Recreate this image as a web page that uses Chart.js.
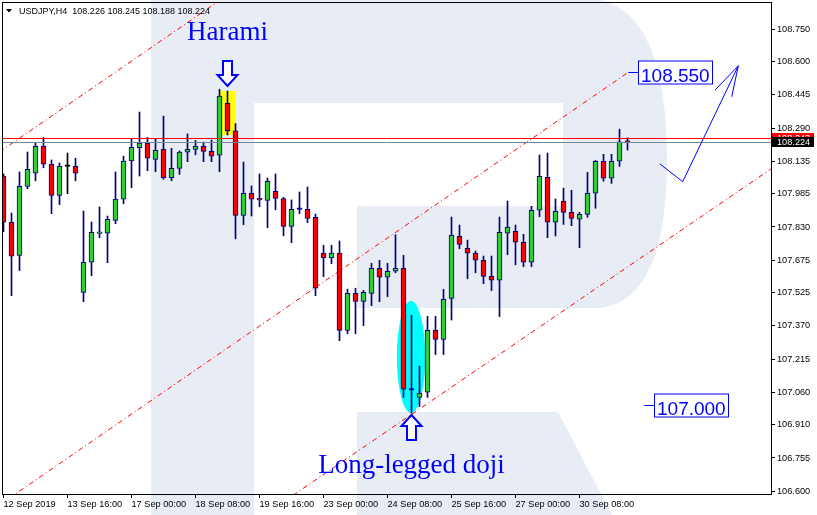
<!DOCTYPE html>
<html>
<head>
<meta charset="utf-8">
<script src="https://cdn.jsdelivr.net/npm/chart.js@4/dist/chart.umd.min.js"></script>
<style>
  html, body { margin: 0; padding: 0; background: #fff; overflow: hidden; }
  #wrap { width: 817px; height: 515px; position: relative; }
  canvas { display: block; }
</style>
</head>
<body>
<div id="wrap"><canvas id="chart" width="817" height="515"></canvas></div>
<script>
// ---- USDJPY H4 candles (index 0 = 12 Sep 2019) ----
const symbol = 'USDJPY,H4';
const opens  = [108.067,107.852,107.698,108.019,108.080,108.205,108.122,107.977,108.112,108.112,
                107.526,107.666,107.800,107.801,107.861,107.960,108.137,108.199,108.221,108.145,
                108.191,108.059,108.103,108.178,108.191,108.205,108.182,108.164,108.406,108.278,
                107.884,107.987,107.958,107.954,107.996,107.962,107.833,107.912,107.912,107.875,
                107.708,107.686,107.708,107.349,107.521,107.484,107.521,107.638,107.596,107.624,
                107.638,107.071,107.037,107.061,107.349,107.307,107.497,107.787,107.731,107.708,
                107.675,107.600,107.582,107.801,107.810,107.759,107.666,107.908,108.061,107.852,
                107.950,107.898,107.866,107.889,107.987,108.136,108.057,108.136,108.226];
const highs  = [108.077,107.895,108.086,108.179,108.224,108.247,108.142,108.128,108.174,108.150,
                107.904,107.853,107.923,107.881,108.086,108.160,108.241,108.365,108.247,108.239,
                108.346,108.196,108.184,108.263,108.233,108.225,108.235,108.471,108.463,108.311,
                108.132,108.021,108.077,108.058,108.077,107.968,107.956,107.993,108.016,107.890,
                107.745,107.745,107.765,107.541,107.545,107.535,107.661,107.675,107.661,107.794,
                107.698,107.419,107.183,107.414,107.414,107.540,107.876,107.839,107.769,107.718,
                107.695,107.695,107.876,107.951,107.839,107.796,107.926,108.165,108.174,107.960,
                108.011,108.001,107.898,108.084,108.140,108.168,108.168,108.285,108.245];
const lows   = [107.808,107.510,107.627,108.008,108.045,108.106,107.892,107.934,107.985,108.045,
                107.482,107.603,107.780,107.664,107.845,107.938,108.013,108.067,108.092,108.087,
                108.052,108.045,108.075,108.134,108.166,108.134,108.134,108.087,108.258,107.775,
                107.841,107.881,107.924,107.827,107.910,107.789,107.757,107.892,107.850,107.510,
                107.599,107.659,107.301,107.333,107.333,107.371,107.464,107.482,107.506,107.617,
                107.037,106.963,106.994,107.037,107.236,107.236,107.397,107.729,107.589,107.617,
                107.566,107.534,107.413,107.701,107.654,107.645,107.645,107.878,107.780,107.788,
                107.842,107.836,107.734,107.875,107.917,108.043,108.033,108.112,108.188];
const closes = [107.852,107.694,108.019,108.098,108.205,108.122,107.977,108.112,108.112,108.080,
                107.666,107.805,107.804,107.866,107.960,108.137,108.201,108.221,108.150,108.187,
                108.059,108.103,108.178,108.191,108.205,108.182,108.159,108.439,108.278,107.884,
                107.987,107.959,107.956,108.043,107.963,107.833,107.912,107.912,107.870,107.545,
                107.686,107.708,107.349,107.521,107.484,107.526,107.638,107.596,107.624,107.638,
                107.075,107.071,107.056,107.349,107.307,107.493,107.791,107.749,107.708,107.675,
                107.600,107.582,107.805,107.829,107.759,107.666,107.908,108.066,107.852,107.903,
                107.898,107.870,107.889,107.987,108.136,108.057,108.136,108.226,108.224];

// ---- axis labels ----
const timeTickIndex = [0, 8, 16, 24, 32, 40, 48, 56, 64, 72];
const timeLabels = ['12 Sep 2019', '13 Sep 16:00', '17 Sep 00:00', '18 Sep 08:00', '19 Sep 16:00',
                    '23 Sep 00:00', '24 Sep 08:00', '25 Sep 16:00', '27 Sep 00:00', '30 Sep 08:00'];
const priceTicks = [108.750, 108.600, 108.445, 108.290, 108.135, 107.985, 107.830, 107.675,
                    107.525, 107.370, 107.215, 107.060, 106.910, 106.755, 106.600];

// ---- market lines ----
const bidPrice = 108.224;
const askPrice = 108.243;

// ---- analysis objects (bar index, price) ----
const channelUpper  = [[-0.5, 108.1793], [28.0, 108.9093]];
const channelMiddle = [[-0.5, 106.5367], [78.1, 108.550]];
const channelLower  = [[30.0, 106.4238], [96.5, 108.1143]];
const forecastPath  = [[82.06, 108.123], [84.90, 108.041], [91.85, 108.580]];
const forecastHead  = [[88.94, 108.467], [91.03, 108.436]];
const targetTags    = [{ at: 78.1, value: 108.550 }, { at: 80.1, value: 107.000 }];
const haramiBox     = { from: 27, to: 29, top: 108.463, bottom: 108.258 };
const dojiOval      = { from: 49.17, to: 52.72, top: 107.486, bottom: 106.964 };
const patternNotes  = [
  { text: 'Harami', at: 28, price: 108.699, arrowTip: 108.486, arrow: 'down' },
  { text: 'Long-legged doji', at: 51, price: 106.685, arrowTip: 106.955, arrow: 'up' }
];

const BULL = '#32CD32', BEAR = '#FF0000', EDGE = '#000080';
const UI_FONT = "'Liberation Sans', Arial, sans-serif";
const blackCross = new Set([8]);

const idx = opens.map((_, i) => i);
const bodyData = idx.map(i => ({ x: i, y: [opens[i], closes[i]] }));
const wickData = idx.map(i => ({ x: i, y: [lows[i], highs[i]] }));
const bodyFill = idx.map(i => closes[i] > opens[i] ? BULL : closes[i] < opens[i] ? BEAR : (blackCross.has(i) ? '#000' : EDGE));
const bodyEdge = idx.map(i => blackCross.has(i) ? '#000' : EDGE);
const toPts = arr => arr.map(([x, y]) => ({ x, y }));

function channel(points) {
  return {
    type: 'line', data: toPts(points), borderColor: '#FF0000', borderWidth: 1,
    borderDash: [5, 3, 1, 3], pointRadius: 0, order: 3, tension: 0
  };
}

// background: white page with the pale "R" watermark
const backdrop = {
  id: 'backdrop',
  beforeDraw(chart) {
    const ctx = chart.ctx;
    ctx.save();
    ctx.fillStyle = '#FFFFFF';
    ctx.fillRect(0, 0, chart.width, chart.height);
    ctx.fillStyle = '#E8EDF5';
    ctx.fillRect(151, 0, 103, chart.height);
    ctx.beginPath();
    ctx.moveTo(254, 0);
    ctx.lineTo(600, 0);
    ctx.quadraticCurveTo(667, 15, 667, 160);
    ctx.quadraticCurveTo(667, 300, 600, 308);
    ctx.lineTo(357, 308);
    ctx.lineTo(357, 206);
    ctx.lineTo(563, 206);
    ctx.lineTo(563, 103);
    ctx.lineTo(254, 103);
    ctx.closePath();
    ctx.fill();
    ctx.beginPath();
    ctx.moveTo(357, 412);
    ctx.lineTo(558, 412);
    ctx.lineTo(612, chart.height);
    ctx.lineTo(357, chart.height);
    ctx.closePath();
    ctx.fill();
    ctx.restore();
  },
  beforeDatasetsDraw(chart) {
    const { ctx, chartArea: a, scales: { x, y } } = chart;
    ctx.save();
    ctx.beginPath();
    ctx.rect(a.left, a.top, a.right - a.left, a.bottom - a.top);
    ctx.clip();
    // highlighted harami range
    ctx.fillStyle = '#FFFF00';
    const bx0 = x.getPixelForValue(haramiBox.from), bx1 = x.getPixelForValue(haramiBox.to);
    const by0 = y.getPixelForValue(haramiBox.top), by1 = y.getPixelForValue(haramiBox.bottom);
    ctx.fillRect(bx0, by0, bx1 - bx0, by1 - by0);
    // oval around the doji
    const ex0 = x.getPixelForValue(dojiOval.from), ex1 = x.getPixelForValue(dojiOval.to);
    const ey0 = y.getPixelForValue(dojiOval.top), ey1 = y.getPixelForValue(dojiOval.bottom);
    ctx.fillStyle = '#00FFFF';
    ctx.beginPath();
    ctx.ellipse((ex0 + ex1) / 2, (ey0 + ey1) / 2, (ex1 - ex0) / 2, (ey1 - ey0) / 2, 0, 0, Math.PI * 2);
    ctx.fill();
    ctx.restore();
  }
};

function hollowArrow(ctx, cx, tipY, dir) {
  const hw = 10, hh = 11, sw = 4.5, len = 25;
  ctx.beginPath();
  ctx.moveTo(cx, tipY);
  ctx.lineTo(cx + hw, tipY - dir * hh);
  ctx.lineTo(cx + sw, tipY - dir * hh);
  ctx.lineTo(cx + sw, tipY - dir * len);
  ctx.lineTo(cx - sw, tipY - dir * len);
  ctx.lineTo(cx - sw, tipY - dir * hh);
  ctx.lineTo(cx - hw, tipY - dir * hh);
  ctx.closePath();
  ctx.fillStyle = '#FFFFFF';
  ctx.fill();
  ctx.strokeStyle = '#0000FF';
  ctx.lineWidth = 2;
  ctx.stroke();
}

const overlays = {
  id: 'overlays',
  afterDatasetsDraw(chart) {
    const { ctx, chartArea: a, scales: { x, y } } = chart;
    ctx.save();
    ctx.beginPath();
    ctx.rect(a.left, a.top, a.right - a.left, a.bottom - a.top);
    ctx.clip();

    // ask / bid lines
    const ay = Math.round(y.getPixelForValue(askPrice)) + 0.5;
    const by = Math.round(y.getPixelForValue(bidPrice)) + 0.5;
    ctx.lineWidth = 1;
    ctx.strokeStyle = '#FF0000';
    ctx.beginPath(); ctx.moveTo(a.left, ay); ctx.lineTo(a.right, ay); ctx.stroke();
    ctx.strokeStyle = '#778899';
    ctx.beginPath(); ctx.moveTo(a.left, by); ctx.lineTo(a.right, by); ctx.stroke();

    // forecast path with arrow head
    ctx.strokeStyle = '#0000FF';
    ctx.lineWidth = 1;
    ctx.beginPath();
    forecastPath.forEach(([i, p], k) => {
      const px = x.getPixelForValue(i), py = y.getPixelForValue(p);
      k ? ctx.lineTo(px, py) : ctx.moveTo(px, py);
    });
    ctx.stroke();
    const tip = forecastPath[forecastPath.length - 1];
    const tx = x.getPixelForValue(tip[0]), ty = y.getPixelForValue(tip[1]);
    forecastHead.forEach(([i, p]) => {
      ctx.beginPath();
      ctx.moveTo(tx, ty);
      ctx.lineTo(x.getPixelForValue(i), y.getPixelForValue(p));
      ctx.stroke();
    });

    // price target tags
    ctx.font = '19px ' + UI_FONT;
    targetTags.forEach(t => {
      const px = x.getPixelForValue(t.at);
      const py = Math.round(y.getPixelForValue(t.value)) + 0.5;
      const label = t.value.toFixed(3);
      const w = Math.round(ctx.measureText(label).width) + 5;
      ctx.strokeStyle = '#0000FF';
      ctx.beginPath(); ctx.moveTo(px, py); ctx.lineTo(px + 10, py); ctx.stroke();
      const bx = Math.round(px + 10) + 0.5;
      ctx.fillStyle = '#FFFFFF';
      ctx.fillRect(bx, py - 11.5, w, 23);
      ctx.strokeRect(bx, py - 11.5, w, 23);
      ctx.fillStyle = '#0000FF';
      ctx.textAlign = 'left';
      ctx.textBaseline = 'alphabetic';
      ctx.fillText(label, bx + 2.5, py + 9);
    });

    // pattern notes and arrows
    patternNotes.forEach(n => {
      const px = x.getPixelForValue(n.at);
      ctx.font = '27px "Liberation Serif", "Times New Roman", serif';
      ctx.fillStyle = '#0000FF';
      ctx.textAlign = 'center';
      ctx.textBaseline = 'alphabetic';
      ctx.fillText(n.text, px, y.getPixelForValue(n.price));
      hollowArrow(ctx, px, y.getPixelForValue(n.arrowTip), n.arrow === 'down' ? 1 : -1);
    });
    ctx.restore();

    // chart frame
    ctx.save();
    ctx.strokeStyle = '#000';
    ctx.lineWidth = 1;
    ctx.strokeRect(a.left + 0.5, a.top + 0.5, a.right - a.left, a.bottom - a.top);
    ctx.restore();
  },
  afterDraw(chart) {
    const { ctx, chartArea: a, scales: { y } } = chart;
    ctx.save();
    ctx.font = '9.2px ' + UI_FONT;
    ctx.textBaseline = 'middle';
    ctx.textAlign = 'left';
    const tag = (price, bg) => {
      const py = y.getPixelForValue(price);
      ctx.fillStyle = bg;
      ctx.fillRect(a.right + 1, Math.round(py) - 5, 42, 10);
      ctx.fillStyle = '#FFFFFF';
      ctx.fillText(price.toFixed(3), a.right + 6, py + 0.5);
    };
    tag(askPrice, '#FF0000');
    tag(bidPrice, '#000000');

    // symbol header with the last bar's OHLC
    const n = closes.length - 1;
    ctx.fillStyle = '#000';
    ctx.beginPath();
    ctx.moveTo(6, 9); ctx.lineTo(12, 9); ctx.lineTo(9, 12.5); ctx.closePath(); ctx.fill();
    ctx.font = '9px ' + UI_FONT;
    ctx.textBaseline = 'alphabetic';
    ctx.fillText(symbol + '  ' + [opens[n], highs[n], lows[n], closes[n]].map(v => v.toFixed(3)).join(' '), 19, 13.5);
    ctx.restore();
  }
};

new Chart(document.getElementById('chart'), {
  type: 'bar',
  data: {
    datasets: [
      {
        label: 'body', data: bodyData, backgroundColor: bodyFill, borderColor: bodyEdge,
        borderWidth: 1, borderSkipped: false, barThickness: 5, minBarLength: 1.6,
        grouped: false, order: 1
      },
      {
        label: 'wick', data: wickData, backgroundColor: bodyEdge, borderWidth: 0,
        barThickness: 1, grouped: false, order: 2
      },
      channel(channelUpper),
      channel(channelMiddle),
      channel(channelLower)
    ]
  },
  options: {
    responsive: false,
    animation: false,
    devicePixelRatio: 1,
    layout: { padding: { left: 2, top: 2, right: 0, bottom: 0 } },
    plugins: { legend: { display: false }, tooltip: { enabled: false } },
    scales: {
      x: {
        type: 'linear', min: -0.1875, max: 95.9375, offset: false,
        afterBuildTicks: s => { s.ticks = timeTickIndex.map(v => ({ value: v })); },
        afterFit: s => { s.height = 21; s.paddingLeft = 0; s.paddingRight = 0; },
        ticks: {
          autoSkip: false, maxRotation: 0, align: 'start', padding: 1, color: '#000',
          font: { family: UI_FONT, size: 9.2 },
          callback: v => timeLabels[timeTickIndex.indexOf(v)]
        },
        grid: { drawOnChartArea: false, drawTicks: true, tickLength: 4, color: '#000', offset: false },
        border: { display: true, color: '#000' }
      },
      y: {
        type: 'linear', position: 'right', min: 106.5874, max: 108.877,
        afterBuildTicks: s => { s.ticks = priceTicks.map(v => ({ value: v })); },
        afterFit: s => { s.width = 46; s.paddingTop = 0; s.paddingBottom = 0; },
        ticks: {
          padding: 2, crossAlign: 'near', color: '#000',
          font: { family: UI_FONT, size: 9.2 },
          callback: v => v.toFixed(3)
        },
        grid: { drawOnChartArea: false, drawTicks: true, tickLength: 4, color: '#000' },
        border: { display: true, color: '#000' }
      }
    }
  },
  plugins: [backdrop, overlays]
});
</script>
</body>
</html>
